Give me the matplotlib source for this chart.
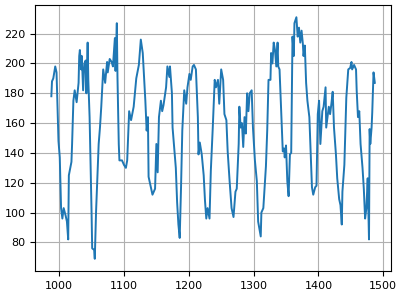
import matplotlib
matplotlib.use("Agg")
import matplotlib.pyplot as plt
from matplotlib.ticker import MultipleLocator

# values
x = [988, 989, 991, 994, 996, 999, 1001, 1003, 1005, 1007, 1010, 1012, 1014, 1015, 1019, 1020,
     1022, 1024, 1027, 1030, 1031, 1032, 1034, 1035, 1037, 1039, 1041, 1042, 1044, 1045, 1047,
     1050, 1051, 1054, 1055, 1057, 1061, 1063, 1065, 1068, 1071, 1074, 1075, 1078, 1081, 1083,
     1086, 1087, 1089, 1090, 1092, 1093, 1097, 1100, 1103, 1105, 1108, 1111, 1115, 1119, 1123,
     1126, 1129, 1133, 1135, 1137, 1138, 1144, 1148, 1150, 1152, 1154, 1157, 1159, 1161, 1165,
     1167, 1170, 1171, 1174, 1175, 1180, 1182, 1184, 1186, 1188, 1190, 1193, 1196, 1198, 1201,
     1203, 1206, 1208, 1211, 1214, 1215, 1217, 1220, 1223, 1225, 1227, 1229, 1232, 1234, 1237,
     1240, 1242, 1245, 1247, 1250, 1253, 1255, 1258, 1260, 1263, 1266, 1269, 1272, 1274, 1277,
     1278, 1280, 1282, 1284, 1286, 1288, 1290, 1292, 1294, 1297, 1299, 1302, 1305, 1307, 1309,
     1311, 1312, 1315, 1319, 1321, 1323, 1326, 1327, 1329, 1331, 1333, 1335, 1337, 1338, 1340,
     1343, 1345, 1347, 1348, 1350, 1352, 1354, 1356, 1358, 1360, 1362, 1363, 1366, 1368, 1370,
     1372, 1374, 1376, 1377, 1379, 1381, 1383, 1386, 1388, 1390, 1392, 1395, 1397, 1399, 1401,
     1403, 1406, 1408, 1411, 1412, 1416, 1418, 1420, 1422, 1424, 1427, 1429, 1432, 1434, 1436,
     1437, 1440, 1443, 1446, 1449, 1451, 1452, 1455, 1458, 1459, 1461, 1463, 1465, 1468, 1470,
     1472, 1474, 1476, 1478, 1479, 1480, 1482, 1483, 1485, 1487]
y = [178, 188, 190, 198, 194, 148, 137, 103, 96, 103, 98, 94, 82, 125, 134, 146,
     175, 182, 174, 187, 205, 209, 196, 205, 182, 200, 202, 180, 214, 189, 164,
     101, 76, 75, 69, 101, 146, 157, 171, 196, 187, 201, 194, 203, 201, 198,
     217, 195, 227, 191, 146, 135, 135, 132, 130, 135, 168, 162, 171, 190, 199,
     216, 207, 175, 155, 164, 124, 112, 116, 146, 127, 164, 175, 168, 172, 184,
     198, 191, 198, 180, 157, 130, 107, 92, 83, 116, 155, 182, 173, 184, 193,
     189, 198, 199, 196, 164, 139, 147, 139, 125, 108, 96, 103, 96, 128, 157,
     189, 184, 189, 173, 196, 189, 166, 162, 141, 121, 103, 97, 114, 116, 146,
     171, 157, 160, 144, 164, 153, 180, 168, 180, 182, 157, 135, 121, 94, 89,
     84, 100, 103, 131, 155, 189, 189, 207, 200, 214, 209, 198, 214, 198, 196,
     162, 141, 143, 137, 145, 121, 111, 139, 140, 218, 205, 227, 231, 218, 224,
     214, 222, 213, 205, 212, 187, 175, 164, 141, 117, 112, 117, 118, 166, 175,
     146, 168, 171, 184, 157, 171, 166, 173, 181, 157, 139, 123, 109, 105, 92,
     114, 132, 177, 196, 197, 201, 196, 199, 196, 182, 164, 168, 146, 130, 116,
     96, 103, 123, 82, 156, 146, 157, 167, 194, 187]

plt.rcParams['font.size'] = 8

fig, ax = plt.subplots(figsize=(4.09, 3.03), dpi=100)
fig.subplots_adjust(left=0.086, right=0.956, bottom=0.106, top=0.983)
ax.plot(x, y, color='#1f77b4', linewidth=1.4)
ax.yaxis.set_major_locator(MultipleLocator(20))
ax.xaxis.set_major_locator(MultipleLocator(100))
ax.grid(True)

fig.savefig("out.png", dpi=100)
